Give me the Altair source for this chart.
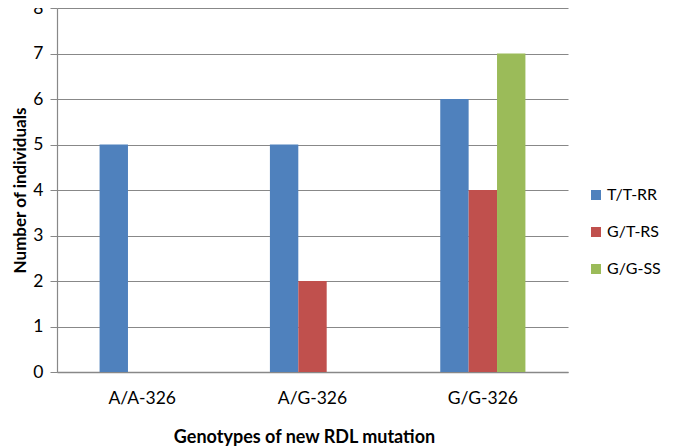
import altair as alt
import pandas as pd

categories = ["A/A-326", "A/G-326", "G/G-326"]
series = ["T/T-RR", "G/T-RS", "G/G-SS"]
tt_rr = [5, 5, 6]
gt_rs = [0, 2, 4]
gg_ss = [0, 0, 7]
colors = ["#4F81BD", "#C0504D", "#9BBB59"]

rows = []
for name, vals in zip(series, [tt_rr, gt_rs, gg_ss]):
    for c, v in zip(categories, vals):
        rows.append({"Genotype": c, "Series": name, "Count": v})
df = pd.DataFrame(rows)

FONT = "Lato"

chart = alt.Chart(df).mark_bar().encode(
    x=alt.X("Genotype:N", sort=categories,
            scale=alt.Scale(paddingInner=0.5, paddingOuter=0.25),
            axis=alt.Axis(title="Genotypes of new RDL mutation", labelAngle=0,
                          ticks=False, labelPadding=31, labelBaseline="alphabetic",
                          labelFontSize=17.5,
                          titleFontSize=18, titleFontWeight="bold",
                          titleX=247, titleY=70, titleBaseline="alphabetic",
                          domainColor="#888888", domainWidth=1.5,
                          grid=False)),
    xOffset=alt.XOffset("Series:N", sort=series),
    y=alt.Y("Count:Q", scale=alt.Scale(domain=[0, 8]),
            axis=alt.Axis(title="Number of individuals", values=list(range(9)),
                          tickSize=7, tickColor="#888888", labelPadding=7,
                          labelFontSize=17.5, titleFontSize=17, titleFontWeight="bold",
                          gridColor="#888888", gridWidth=1.2,
                          domainColor="#888888", domainWidth=1.2,
                          titleX=-28, titleY=182, titleBaseline="bottom")),
    color=alt.Color("Series:N", sort=series,
                    scale=alt.Scale(domain=series, range=colors),
                    legend=alt.Legend(title=None, orient="none", legendX=531, legendY=179,
                                      symbolType="square", symbolSize=100,
                                      symbolStrokeWidth=0, labelFontSize=16,
                                      labelOffset=3, rowPadding=21, padding=0)),
).properties(
    width=511, height=364,
    autosize=alt.AutoSizeParams(type="none"),
    padding={"left": 49, "top": 0, "right": 98, "bottom": 75},
).configure(
    font=FONT,
).configure_view(
    stroke=None,
).configure_axis(
    labelColor="black", titleColor="black", labelFont=FONT, titleFont=FONT,
).configure_legend(
    labelColor="black", labelFont=FONT,
)

chart.save("out.html", embed_options={"renderer": "svg", "actions": False})
